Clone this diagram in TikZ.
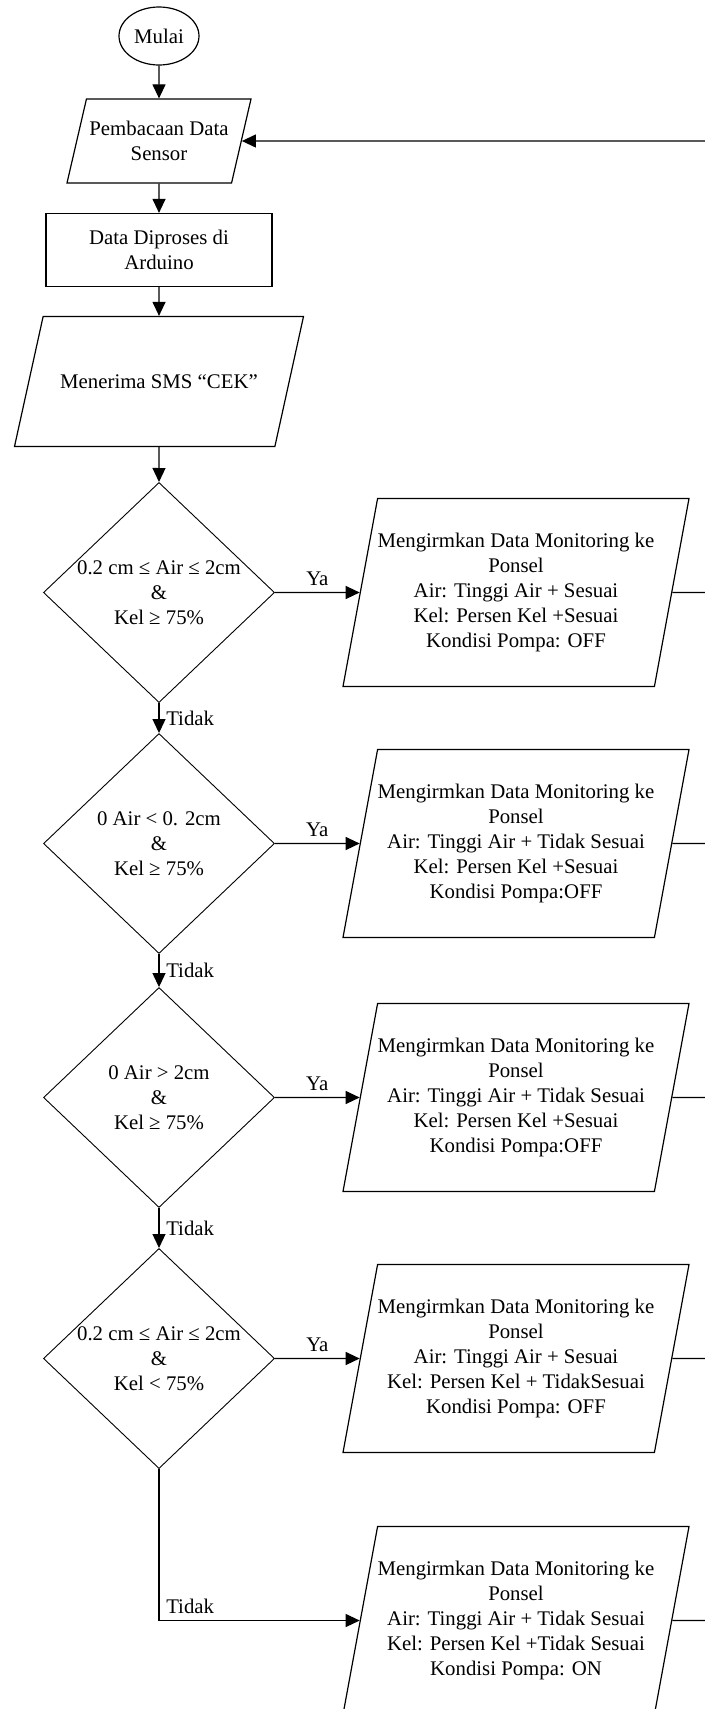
\documentclass[tikz,border=0pt]{standalone}
\usepackage{fontspec}
\setmainfont{Liberation Serif}
\usetikzlibrary{shapes.geometric,arrows.meta,positioning}

\begin{document}
\begin{tikzpicture}[x=0.5pt,y=-0.5pt,line width=0.6pt,
        font=\fontsize{10.4}{12.5}\selectfont,
        every node/.style={align=center},
        terminal/.style={draw,ellipse,minimum width=40pt,minimum height=29pt,inner sep=0pt},
        proses/.style={draw,rectangle,minimum width=113pt,minimum height=36.5pt,inner sep=0pt},
        io/.style={draw,trapezium,trapezium left angle=80,trapezium right angle=100,
            trapezium stretches body,inner xsep=0pt},
        kirim/.style={io,trapezium left angle=79.4,trapezium right angle=100.6,
            inner ysep=16.5pt,minimum width=173pt,minimum height=94pt},
        cek/.style={draw,diamond,aspect=1.05,line width=0.45pt,
            minimum width=115.5pt,minimum height=110pt,inner sep=0pt},
        arr/.style={-{Triangle[length=7pt,width=6.5pt]}}]
        \useasboundingbox (0,0) rectangle (705,1709);
        \coordinate (E) at (705,0);
        \node(N1) [terminal] at (159,36) {Mulai};
        \node(N2) [io,inner ysep=10.5pt,minimum width=92pt,minimum height=42pt,trapezium left angle=76.6,
            trapezium right angle=103.4,below of=N1,node distance=52.5pt] {Pembacaan Data\\Sensor};
        \node(N3) [proses,below of=N2,node distance=54.5pt] {Data Diproses di\\Arduino};
        \node(N4) [io,inner ysep=28.5pt,minimum width=144.5pt,minimum height=65pt,trapezium left angle=77.4,
            trapezium right angle=102.6,below of=N3,node distance=65.75pt] {Menerima SMS “CEK”};
        \node(K1) [cek,below of=N4,node distance=105.5pt] {0.2 cm ≤ Air ≤ 2cm\\\&\\Kel ≥ 75\%};
        \node(K2) [cek,below of=K1,node distance=125.5pt] {0 Air < 0. 2cm\\\&\\Kel ≥ 75\%};
        \node(K3) [cek,below of=K2,node distance=127pt] {0 Air > 2cm\\\&\\Kel ≥ 75\%};
        \node(K4) [cek,below of=K3,node distance=130.5pt] {0.2 cm ≤ Air ≤ 2cm\\\&\\Kel < 75\%};
        \node(M1) [kirim,right of=K1,node distance=178.5pt] {Mengirmkan Data Monitoring ke\\Ponsel\\Air: Tinggi Air + Sesuai\\Kel: Persen Kel +Sesuai\\Kondisi Pompa: OFF};
        \node(M2) [kirim,right of=K2,node distance=178.5pt] {Mengirmkan Data Monitoring ke\\Ponsel\\Air: Tinggi Air + Tidak Sesuai\\Kel: Persen Kel +Sesuai\\Kondisi Pompa:OFF};
        \node(M3) [kirim,right of=K3,node distance=178.5pt] {Mengirmkan Data Monitoring ke\\Ponsel\\Air: Tinggi Air + Tidak Sesuai\\Kel: Persen Kel +Sesuai\\Kondisi Pompa:OFF};
        \node(M4) [kirim,right of=K4,node distance=178.5pt] {Mengirmkan Data Monitoring ke\\Ponsel\\Air: Tinggi Air + Sesuai\\Kel: Persen Kel + TidakSesuai\\Kondisi Pompa: OFF};
        \node(M5) [kirim,below of=M4,node distance=131pt] {Mengirmkan Data Monitoring ke\\Ponsel\\Air: Tinggi Air + Tidak Sesuai\\Kel: Persen Kel +Tidak Sesuai\\Kondisi Pompa: ON};
        \coordinate (R0) at (N2 -| E);
        \coordinate (R1) at (M1 -| E);
        \coordinate (R2) at (M2 -| E);
        \coordinate (R3) at (M3 -| E);
        \coordinate (R4) at (M4 -| E);
        \coordinate (R5) at (M5 -| E);
        \draw[arr] (N1) -- (N2);
        \draw[arr] (N2) -- (N3);
        \draw[arr] (N3) -- (N4);
        \draw[arr] (N4) -- (K1);
        \draw[arr] (K1) -- node[above] {Ya} (M1);
        \draw[arr] (K2) -- node[above] {Ya} (M2);
        \draw[arr] (K3) -- node[above] {Ya} (M3);
        \draw[arr] (K4) -- node[above] {Ya} (M4);
        \draw[arr] (K1) -- node[right] {Tidak} (K2);
        \draw[arr] (K2) -- node[right] {Tidak} (K3);
        \draw[arr] (K3) -- node[right] {Tidak} (K4);
        \draw[arr] (K4) |- node[pos=0.5,above right] {Tidak} (M5);
        \draw (M1) -- (R1);
        \draw (M2) -- (R2);
        \draw (M3) -- (R3);
        \draw (M4) -- (R4);
        \draw (M5) -- (R5);
        \draw[arr] (R0) -- (N2);
    \end{tikzpicture}
\end{document}
